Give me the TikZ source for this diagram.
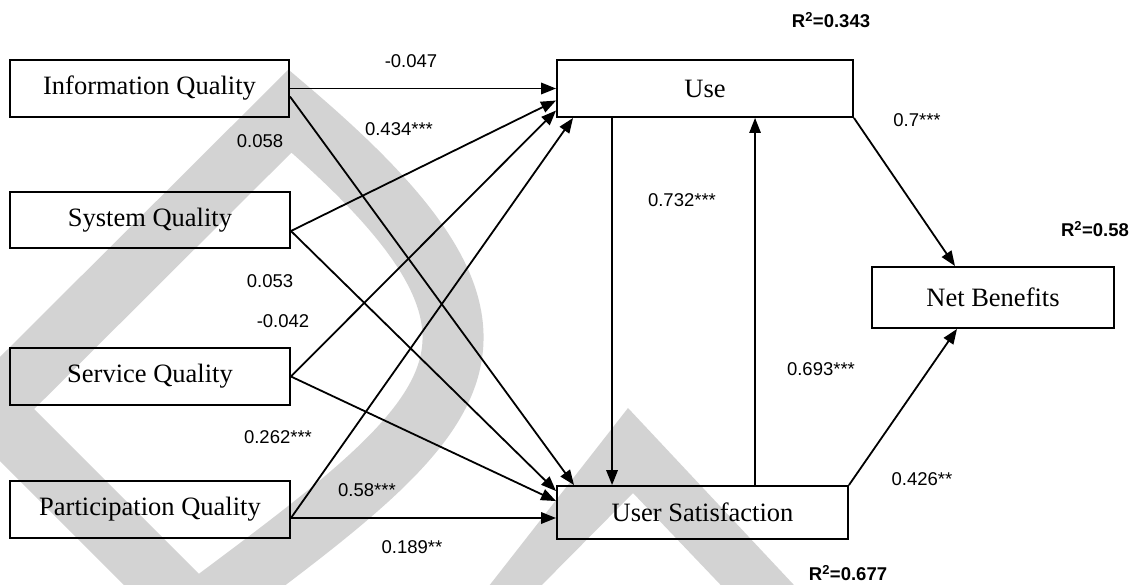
\documentclass[tikz,border=0pt]{standalone}
\usepackage{fontspec}
\setmainfont{Liberation Serif}
\newfontfamily\numfont{Liberation Sans}
\usetikzlibrary{arrows.meta}
\definecolor{wm}{RGB}{211,211,211}
\begin{document}
\begin{tikzpicture}[x=1pt,y=-1pt,
  box/.style={draw=black, line width=1.9pt, rectangle, inner sep=0pt,
    font=\fontsize{26.5}{30}\selectfont},
  conn/.style={line width=1.8pt, -{Triangle[length=15pt,width=11.5pt]}},
  lab/.style={font=\numfont\fontsize{18.5}{20}\selectfont, inner sep=0pt},
  rsq/.style={font=\numfont\bfseries\fontsize{18.5}{20}\selectfont, inner sep=0pt}]
\useasboundingbox (0,0) rectangle (1131,584);
% watermark
\begin{scope}
  \clip (0,0) rectangle (1131,584);
  \draw[wm, line width=61pt, line join=miter]
    (290,111) -- (-9,409) -- (196,614) .. controls (464,414) and (565,345) .. cycle;
  \fill[wm] (478,600) -- (628,408) -- (808,600) -- (735,600) -- (633,493) -- (527,600) -- cycle;
\end{scope}
% boxes
\node[box, minimum width=279pt, minimum height=57pt] (iq) at (149.5,88.5) {Information Quality};
\node[box, minimum width=280pt, minimum height=56pt] (sq) at (150,220) {System Quality};
\node[box, minimum width=280pt, minimum height=57pt] (sv) at (150,376.5) {Service Quality};
\node[box, minimum width=280pt, minimum height=57pt] (pq) at (150,509.5) {Participation Quality};
\node[box, minimum width=296pt, minimum height=57pt] (use) at (705,88.5) {Use};
\node[box, minimum width=291pt, minimum height=53pt] (us) at (702.5,512.5) {User Satisfaction};
\node[box, minimum width=242pt, minimum height=61pt] (nb) at (993,297.5) {Net Benefits};
% connectors
\draw[conn] (iq.east) -- (use.west);
\draw[conn] ([yshift=-8pt]iq.east) -- ([xshift=18pt]us.north west);
\draw[conn] ([yshift=-11pt]sq.east) -- ([yshift=-12pt]use.west);
\draw[conn] ([yshift=-11pt]sq.east) -- ([yshift=-6pt]us.north west);
\draw[conn] (sv.east) -- ([yshift=-22pt]use.west);
\draw[conn] (sv.east) -- ([yshift=-16pt]us.north west);
\draw[conn] ([yshift=-8.5pt]pq.east) -- ([xshift=17pt]use.south west);
\draw[conn] ([yshift=-8.5pt]pq.east) -- ([yshift=-5.5pt]us.west);
\draw[conn] ([xshift=56pt]use.south west) -- ([xshift=56pt]us.north west);
\draw[conn, line width=1.3pt] ([xshift=199pt]us.north west) -- ([xshift=199pt]use.south west);
\draw[conn] (use.south east) -- ([xshift=-38pt]nb.north);
\draw[conn] (us.north east) -- ([xshift=-36pt]nb.south);
% labels
\node[lab] (l1) at (411,61) {-0.047};
\node[lab] (l2) at (399,129) {0.434***};
\node[lab] (l3) at (260,141) {0.058};
\node[lab] (l4) at (270,281) {0.053};
\node[lab] (l5) at (283,321) {-0.042};
\node[lab] (l6) at (278,437) {0.262***};
\node[lab] (l7) at (367,490) {0.58***};
\node[lab] (l8) at (412,547) {0.189**};
\node[lab] (l9) at (682,200) {0.732***};
\node[lab] (l10) at (821,369) {0.693***};
\node[lab] (l11) at (917,120) {0.7***};
\node[lab] (l12) at (922,479) {0.426**};
\node[rsq] (r1) at (831,20) {R\textsuperscript{2}=0.343};
\node[rsq] (r2) at (1095,229) {R\textsuperscript{2}=0.58};
\node[rsq] (r3) at (848,573) {R\textsuperscript{2}=0.677};
\end{tikzpicture}
\end{document}
